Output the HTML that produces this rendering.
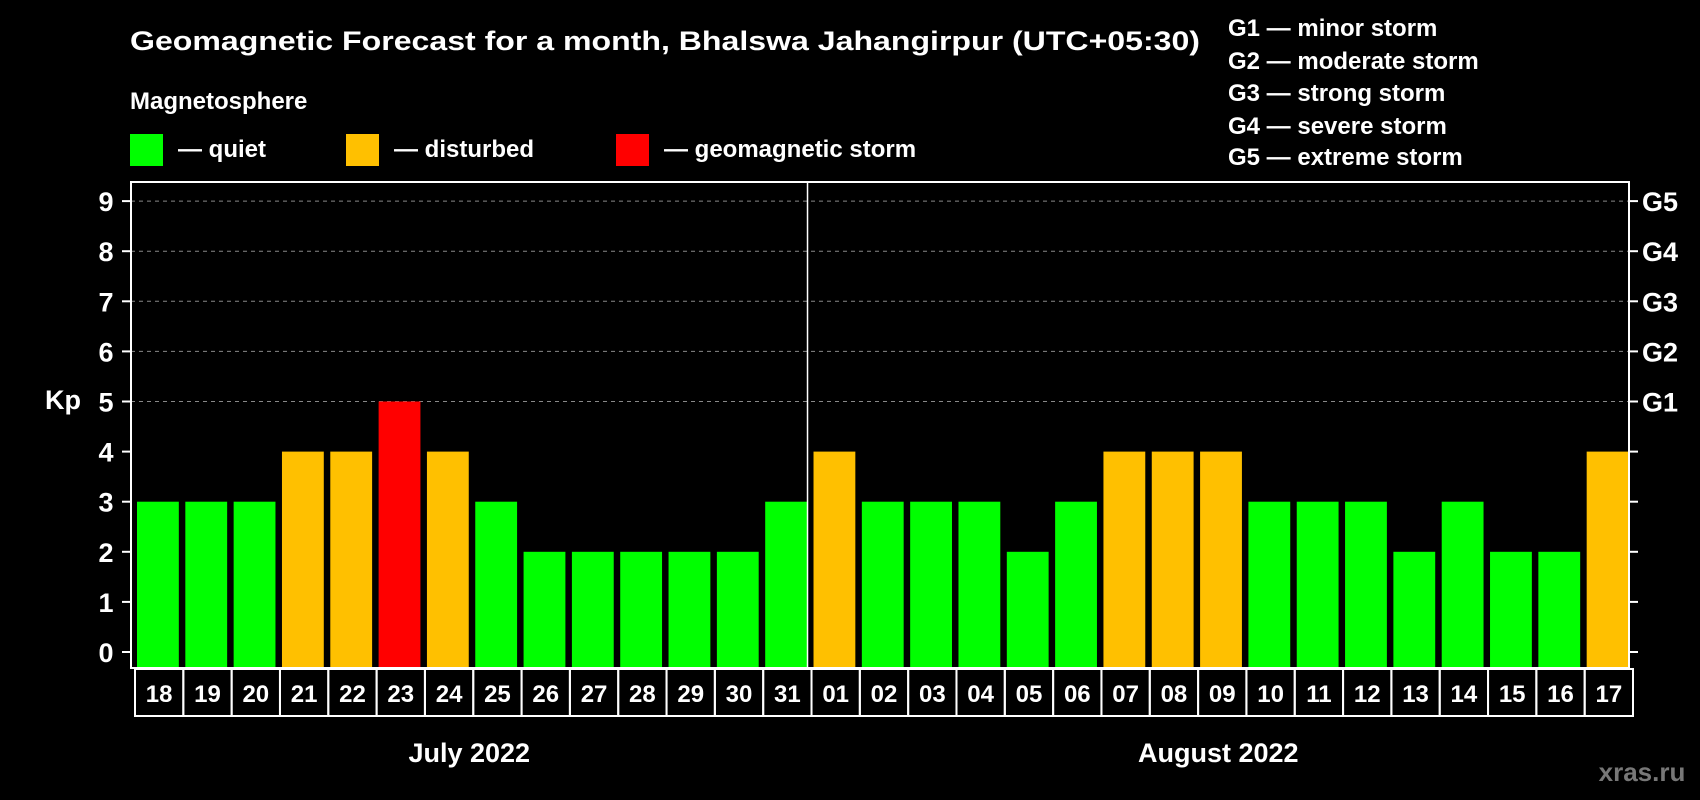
<!DOCTYPE html>
<html><head><meta charset="utf-8"><style>
html,body{margin:0;padding:0;background:#000;}
svg{display:block;font-family:"Liberation Sans",Arial,sans-serif;font-weight:bold;}
</style></head><body>
<svg id="chart" width="1700" height="800" viewBox="0 0 1700 800">
<rect x="0" y="0" width="1700" height="800" fill="#000"/>
<text x="130" y="50" fill="#fff" font-size="27" textLength="1070" lengthAdjust="spacingAndGlyphs">Geomagnetic Forecast for a month, Bhalswa Jahangirpur (UTC+05:30)</text>
<text x="130" y="109" fill="#fff" font-size="24">Magnetosphere</text>
<g>
<rect x="130" y="134" width="33" height="32" fill="#00ff00"/>
<text x="178" y="157" fill="#fff" font-size="24">— quiet</text></g>
<g>
<rect x="346" y="134" width="33" height="32" fill="#ffc000"/>
<text x="394" y="157" fill="#fff" font-size="24">— disturbed</text></g>
<g>
<rect x="616" y="134" width="33" height="32" fill="#ff0000"/>
<text x="664" y="157" fill="#fff" font-size="24">— geomagnetic storm</text></g>
<g font-size="24" fill="#fff">
<text x="1228" y="36">G1 — minor storm</text>
<text x="1228" y="69">G2 — moderate storm</text>
<text x="1228" y="101">G3 — strong storm</text>
<text x="1228" y="134">G4 — severe storm</text>
<text x="1228" y="165">G5 — extreme storm</text>
</g>
<text x="63" y="409" fill="#fff" font-size="27" text-anchor="middle">Kp</text>
<text x="1642" y="781" fill="#777" font-size="26" text-anchor="middle">xras.ru</text>
<g id="plot"></g>
</svg>
<script>
const days = ["18","19","20","21","22","23","24","25","26","27","28","29","30","31","01","02","03","04","05","06","07","08","09","10","11","12","13","14","15","16","17"];
const kpValues = [3,3,3,4,4,5,4,3,2,2,2,2,2,3,4,3,3,3,2,3,4,4,4,3,3,3,2,3,2,2,4];
const yTicks = [0,1,2,3,4,5,6,7,8,9];
const gLabels = ["G1","G2","G3","G4","G5"];
const gLevels = [5,6,7,8,9];
const months = ["July 2022","August 2022"];
const monthStart = [0,14];
const monthLen = [14,17];

const NS="http://www.w3.org/2000/svg";
const plot=document.getElementById('plot');
const L=131,R=1629,T=182,B=668,Y0=652,UNIT=50.1;
const n=days.length, pitch=(R-L)/n;
function y(v){return Y0-v*UNIT;}
function x(i){return L+i*pitch;}
function mk(tag,attrs){const e=document.createElementNS(NS,tag);for(const k in attrs)e.setAttribute(k,attrs[k]);plot.appendChild(e);return e;}
function color(v){return v>=5?"#ff0000":(v>=4?"#ffc000":"#00ff00");}

// gridlines
gLevels.forEach((lv,i)=>{
  const g=mk('line',{x1:L,x2:R,y1:y(lv),y2:y(lv),stroke:"#888","stroke-width":1,"stroke-dasharray":"4,4"});
  
  
});
// bars
kpValues.forEach((v,i)=>{
  const r=mk('rect',{x:x(i)+6,y:y(v),width:pitch-6.5,height:B-y(v),fill:color(v)});
  
  
});
// frame
const fr=mk('rect',{x:L,y:T,width:R-L,height:B-T,fill:"none",stroke:"#fff","stroke-width":2});


// month divider
monthStart.slice(1).forEach((s,i)=>{
  const d=mk('line',{x1:x(s),x2:x(s),y1:T,y2:B,stroke:"#fff","stroke-width":1.5});
  
  
});
// y ticks
yTicks.forEach(t=>{
  const a=mk('line',{x1:L-9,x2:L,y1:y(t),y2:y(t),stroke:"#fff","stroke-width":2});
  
  
  const b=mk('line',{x1:R,x2:R+9,y1:y(t),y2:y(t),stroke:"#fff","stroke-width":2});
  
  
  const tx=mk('text',{x:106,y:y(t)+10,fill:"#fff","font-size":27,"text-anchor":"middle"});
  tx.textContent=t;
  
  
});
gLabels.forEach((g,i)=>{
  const tx=mk('text',{x:1642,y:y(gLevels[i])+10,fill:"#fff","font-size":27});
  tx.textContent=g;
  
  
});
// date boxes
const BT=669,BB=716;
days.forEach((d,i)=>{
  const bx=mk('rect',{x:x(i)+4,y:BT,width:pitch,height:BB-BT,fill:"none",stroke:"#fff","stroke-width":2});
  
  
  const tx=mk('text',{x:x(i)+4+pitch/2,y:BT+33,fill:"#fff","font-size":24,"text-anchor":"middle"});
  tx.textContent=d;
  
  
});
months.forEach((m,i)=>{
  const cx=x(monthStart[i]+monthLen[i]/2);
  const tx=mk('text',{x:cx,y:762,fill:"#fff","font-size":27,"text-anchor":"middle"});
  tx.textContent=m;
  
  
});
</script>
</body></html>
